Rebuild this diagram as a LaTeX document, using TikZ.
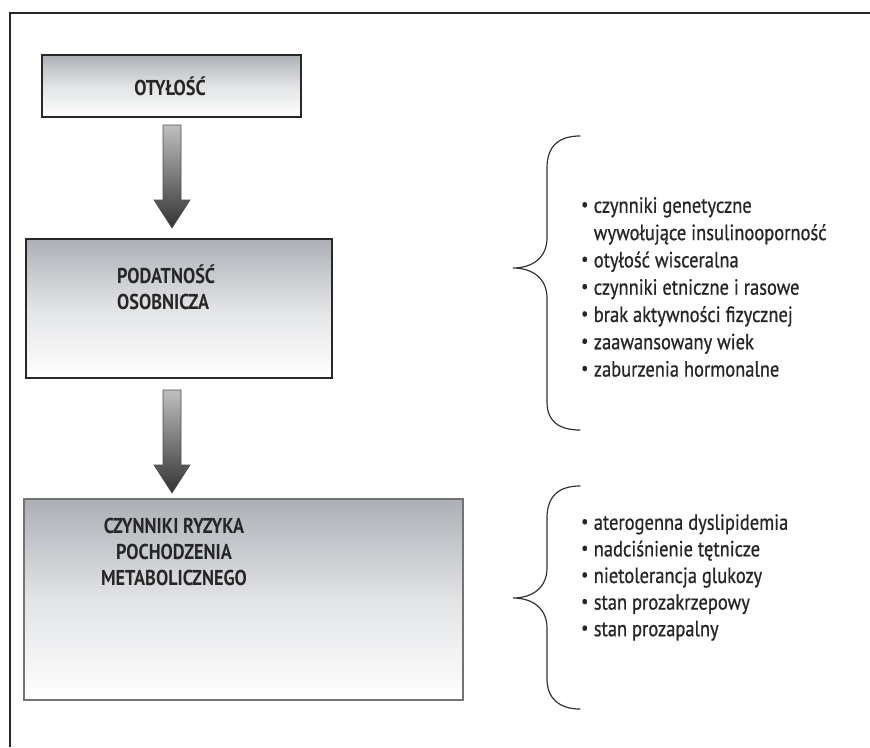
\documentclass[tikz,border=0pt]{standalone}
\usepackage{fontspec}
\usepackage{graphicx}
\setmainfont{PT Sans}[FakeStretch=0.85]
\newfontfamily\listfont{PT Sans}[FakeStretch=0.84, FakeBold=0.7]
\usetikzlibrary{calc}
\definecolor{boxtop}{RGB}{172,176,182}
\definecolor{frame}{RGB}{40,40,40}
\newcommand\bul{\raisebox{0.1em}{\scalebox{0.85}{•}}\hspace{0.25em}}
\tikzset{
  box/.style={draw=frame, line width=1.3pt, top color=boxtop, bottom color=white, middle color=boxtop!35!white, shading angle=0},
  lbl/.style={font=\bfseries\fontsize{21.5}{26}\selectfont, text=black!85, inner sep=0pt},
  lst/.style={font=\listfont\fontsize{22}{27.3}\selectfont, text=black!85, align=left, inner sep=0pt, anchor=north west},
  blockarrow/.style={draw=black!70, line width=0.6pt, top color=black!25, bottom color=black!80},
  brace/.style={draw=black!80, line width=1.2pt, line cap=round}
}
\begin{document}
\begin{tikzpicture}[x=1pt,y=-1pt]
\useasboundingbox (0,0) rectangle (870,747);
% outer frame (left and top edges)
\draw[frame, line width=2pt] (9.5,747) -- (9.5,13) -- (870,13);

% boxes
\path[box] (42,55) rectangle (301,117);
\node (b1) at (171.5,86) {};
\path[box] (26,239) rectangle (332,378);
\node (b2) at (179,308) {};
\path[box, draw=black!55, line width=1.6pt] (24,499) rectangle (463,700);
\node (b3) at (243,600) {};

% labels
\node[lbl] (t1) at (170,86) {OTYŁOŚĆ};
\node[lbl, align=left, anchor=north west] (t2) at (117,265) {PODATNOŚĆ\\OSOBNICZA};
\node[lbl, align=center, anchor=north] (t3) at (174,518) {CZYNNIKI RYZYKA\\POCHODZENIA\\METABOLICZNEGO};

% block arrows
\coordinate (a1) at (172,125);
\coordinate (a2) at (172,390);
\foreach \c in {a1,a2}{
  \path[blockarrow] ($(\c)+(-9,0)$) -- ($(\c)+(9,0)$) -- ($(\c)+(9,75)$) -- ($(\c)+(18,75)$)
     -- ($(\c)+(0,103)$) -- ($(\c)+(-18,75)$) -- ($(\c)+(-9,75)$) -- cycle;
}

% braces
\coordinate (br1) at (513,268);
\draw[brace] (580,136) .. controls (560,136) and (547,145) .. (547,168) -- (547,238)
  .. controls (547,258) and (532,268) .. (br1)
  .. controls (532,268) and (547,278) .. (547,298) -- (547,402)
  .. controls (547,422) and (560,430) .. (580,430);
\coordinate (br2) at (513,598);
\draw[brace] (580,486) .. controls (560,486) and (547,495) .. (547,518) -- (547,568)
  .. controls (547,588) and (532,598) .. (br2)
  .. controls (532,598) and (547,608) .. (547,628) -- (547,679)
  .. controls (547,699) and (560,709) .. (580,709);

% lists
\node[lst] (l1) at (581,197) {\bul czynniki genetyczne\\
\phantom{\bul}wywołujące insulinooporność\\
\bul otyłość wisceralna\\
\bul czynniki etniczne i rasowe\\
\bul brak aktywności fizycznej\\
\bul zaawansowany wiek\\
\bul zaburzenia hormonalne};
\node[lst, font=\listfont\fontsize{22}{26.6}\selectfont] (l2) at (581,514) {\bul aterogenna dyslipidemia\\
\bul nadciśnienie tętnicze\\
\bul nietolerancja glukozy\\
\bul stan prozakrzepowy\\
\bul stan prozapalny};
\end{tikzpicture}
\end{document}
